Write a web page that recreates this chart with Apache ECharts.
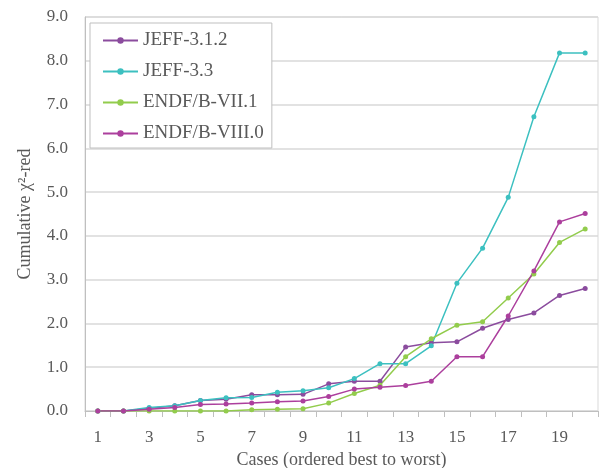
<!DOCTYPE html>
<html>
<head>
<meta charset="utf-8">
<script src="https://cdn.jsdelivr.net/npm/echarts@6/dist/echarts.min.js"></script>
<style>html,body{margin:0;padding:0;background:#fff;}#c{width:600px;height:468px;}</style>
</head>
<body>
<div id="c"></div>
<script>
const categories = ['1','2','3','4','5','6','7','8','9','10','11','12','13','14','15','16','17','18','19','20'];
const jeff312 = [0, 0, 0.06, 0.12, 0.24, 0.27, 0.37, 0.37, 0.38, 0.62, 0.68, 0.68, 1.46, 1.56, 1.58, 1.89, 2.09, 2.24, 2.64, 2.80];
const jeff33  = [0, 0, 0.08, 0.12, 0.24, 0.30, 0.31, 0.43, 0.46, 0.53, 0.74, 1.08, 1.08, 1.49, 2.92, 3.72, 4.88, 6.72, 8.18, 8.18];
const endf71  = [0, 0, 0, 0, 0, 0, 0.03, 0.04, 0.05, 0.18, 0.40, 0.59, 1.24, 1.65, 1.96, 2.04, 2.58, 3.13, 3.85, 4.16];
const endf80  = [0, 0, 0.04, 0.08, 0.15, 0.16, 0.18, 0.21, 0.23, 0.33, 0.50, 0.54, 0.58, 0.68, 1.24, 1.24, 2.17, 3.20, 4.32, 4.51];
const seriesNames = ['JEFF-3.1.2', 'JEFF-3.3', 'ENDF/B-VII.1', 'ENDF/B-VIII.0'];
const xTitle = 'Cases (ordered best to worst)';
const yTitle = 'Cumulative \u03c7\u00b2-red';

const colors = ['#8B4C9E', '#3CC0C0', '#92CC4C', '#AC3F9D'];
const font = 'Liberation Serif';
const txt = '#595959';

function mk(name, data, color) {
  return {
    name: name, type: 'line', data: data,
    symbol: 'circle', symbolSize: 5,
    lineStyle: {color: color, width: 1.5},
    itemStyle: {color: color},
    emphasis: {disabled: true}
  };
}

const chart = echarts.init(document.getElementById('c'));
chart.setOption({
  animation: false,
  color: colors,
  grid: {left: 85, right: 2, top: 17, bottom: 57, show: true, borderColor: '#D9D9D9', borderWidth: 1, containLabel: false, outerBoundsMode: 'none'},
  legend: {
    orient: 'vertical', left: 90, top: 23,
    backgroundColor: '#fff', borderColor: '#BFBFBF', borderWidth: 1,
    padding: [8, 8, 5, 12],
    itemWidth: 35, itemHeight: 8, itemGap: 12,
    textStyle: {fontFamily: font, fontSize: 19, color: txt, lineHeight: 19},
    data: seriesNames
  },
  xAxis: {
    type: 'category', data: categories, boundaryGap: true,
    name: xTitle, nameLocation: 'middle', nameGap: 37,
    nameTextStyle: {fontFamily: font, fontSize: 18, color: txt},
    axisLine: {lineStyle: {color: '#BFBFBF'}},
    axisTick: {show: true, interval: 0, length: 6, lineStyle: {color: '#BFBFBF'}},
    axisLabel: {interval: 1, margin: 18, fontFamily: font, fontSize: 17, color: txt}
  },
  yAxis: {
    type: 'value', min: 0, max: 9, interval: 1,
    name: yTitle, nameLocation: 'middle', nameGap: 51, nameRotate: 90,
    nameTextStyle: {fontFamily: font, fontSize: 18, color: txt},
    axisLine: {show: true, lineStyle: {color: '#BFBFBF'}},
    axisTick: {show: false},
    splitLine: {lineStyle: {color: '#D9D9D9', width: 1.5}},
    axisLabel: {margin: 17, fontFamily: font, fontSize: 17, color: txt, formatter: v => v.toFixed(1)}
  },
  series: [
    mk(seriesNames[0], jeff312, colors[0]),
    mk(seriesNames[1], jeff33, colors[1]),
    mk(seriesNames[2], endf71, colors[2]),
    mk(seriesNames[3], endf80, colors[3])
  ]
});
</script>
</body>
</html>
